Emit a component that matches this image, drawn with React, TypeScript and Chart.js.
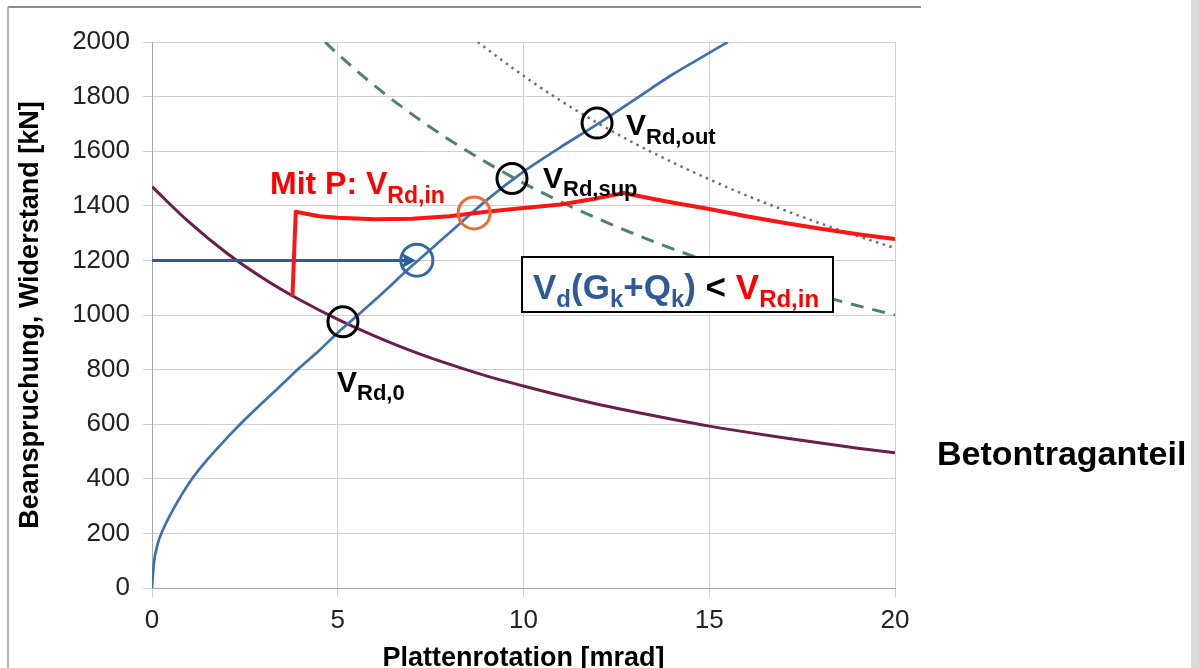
import React, { useEffect, useRef } from 'react';
import { Chart, registerables } from 'chart.js';

Chart.register(...registerables);

const W = 1199;
const H = 668;
const FONT = "'Liberation Sans', Arial, Helvetica, sans-serif";

// axis ticks
const xTickValues = [0, 5, 10, 15, 20];
const yTickValues = [0, 200, 400, 600, 800, 1000, 1200, 1400, 1600, 1800, 2000];

// load–rotation curve (blue)
const loadX = [0, 0.05, 0.15, 0.3, 0.6, 1.0, 1.5, 2.0, 2.5, 3.0, 3.5, 4.0, 4.5, 5.0, 5.5, 6.0, 7.0, 8.0, 9.0, 10.0, 11.0, 12.0, 13.0, 14.0, 15.0, 15.5];
const loadY = [0, 90, 160, 215, 295, 385, 472, 547, 617, 682, 746, 810, 870, 935, 995, 1055, 1180, 1300, 1420, 1525, 1615, 1700, 1790, 1880, 1960, 2000];

// concrete contribution (purple)
const concreteX = [0, 1, 2, 3, 4, 5, 6, 7, 8, 9, 10, 11, 12, 13, 14, 15, 16, 17, 18, 19, 20];
const concreteY = [1470, 1340, 1228, 1134, 1054, 984, 923, 868, 820, 777, 740, 705, 673, 645, 618, 593, 571, 550, 531, 512, 495];

// resistance with prestressing V_Rd,in (red)
const rdInX = [3.78, 3.87, 4.5, 5, 6, 7, 8, 9, 10, 11, 12, 12.7, 13.5, 14, 15, 16, 17, 18, 19, 20];
const rdInY = [1068, 1378, 1362, 1356, 1351, 1353, 1362, 1378, 1392, 1405, 1428, 1447, 1425, 1412, 1388, 1362, 1338, 1316, 1296, 1278];

// V_Rd,sup (dashed)
const rdSupX = [4.66, 5, 6, 7, 8, 9, 10, 11, 12, 13, 14, 15, 16, 17, 18, 19, 20];
const rdSupY = [2000, 1956, 1839, 1735, 1642, 1559, 1483, 1415, 1353, 1296, 1243, 1195, 1150, 1108, 1070, 1034, 1000];

// V_Rd,out (dotted)
const rdOutX = [8.77, 9, 10, 11, 12, 13, 14, 15, 16, 17, 18, 19, 20];
const rdOutY = [2000, 1976, 1876, 1785, 1703, 1628, 1560, 1497, 1438, 1385, 1335, 1289, 1245];

// design load arrow V_d
const arrowX = [0, 7.0];
const arrowY = [1200, 1200];

// marked intersections
const circleX = [5.14, 9.69, 11.98, 8.67, 7.13];
const circleY = [975, 1500, 1703, 1374, 1201];
const circleColors = ['#000000', '#000000', '#000000', '#f06a34', '#2f6aa8'];

const pts = (xs: number[], ys: number[]) => xs.map((x, i) => ({ x, y: ys[i] }));

type Run = { t: string; size: number; color: string; dy?: number };

function drawRuns(ctx: CanvasRenderingContext2D, x: number, y: number, runs: Run[]) {
  let cx = x;
  ctx.textAlign = 'left';
  ctx.textBaseline = 'alphabetic';
  for (const r of runs) {
    ctx.font = `bold ${r.size}px ${FONT}`;
    ctx.fillStyle = r.color;
    ctx.fillText(r.t, cx, y + (r.dy || 0));
    cx += ctx.measureText(r.t).width;
  }
}

const decorPlugin = {
  id: 'decor',
  beforeDraw(chart: any) {
    const ctx: CanvasRenderingContext2D = chart.ctx;
    ctx.save();
    ctx.fillStyle = '#ffffff';
    ctx.fillRect(0, 0, W, H);
    ctx.strokeStyle = '#8c8c8c';
    ctx.lineWidth = 2;
    ctx.beginPath();
    ctx.moveTo(8, 7);
    ctx.lineTo(921, 7);
    ctx.stroke();
    ctx.strokeStyle = '#b4b4b4';
    ctx.beginPath();
    ctx.moveTo(8, 7);
    ctx.lineTo(8, H);
    ctx.stroke();
    ctx.fillStyle = '#d9d9d9';
    ctx.fillRect(1191, 0, 8, H);
    ctx.restore();
  },
  afterDatasetsDraw(chart: any) {
    const ctx: CanvasRenderingContext2D = chart.ctx;
    const xs = chart.scales.x;
    const ys = chart.scales.y;
    ctx.save();

    // arrow head
    const ax = xs.getPixelForValue(arrowX[arrowX.length - 1]);
    const ay = ys.getPixelForValue(arrowY[arrowY.length - 1]);
    ctx.fillStyle = '#2c5f97';
    ctx.beginPath();
    ctx.moveTo(ax + 4, ay);
    ctx.lineTo(ax - 11, ay - 8);
    ctx.lineTo(ax - 7, ay);
    ctx.lineTo(ax - 11, ay + 8);
    ctx.closePath();
    ctx.fill();

    // circles
    for (let i = 0; i < circleX.length; i++) {
      const px = xs.getPixelForValue(circleX[i]);
      const py = ys.getPixelForValue(circleY[i]);
      ctx.strokeStyle = circleColors[i];
      ctx.lineWidth = 3;
      ctx.beginPath();
      ctx.arc(px, py, i >= 3 ? 16 : 15, 0, Math.PI * 2);
      ctx.stroke();
    }

    // labels
    drawRuns(ctx, 337, 392, [
      { t: 'V', size: 30, color: '#000' },
      { t: 'Rd,0', size: 22, color: '#000', dy: 8 },
    ]);
    drawRuns(ctx, 543, 188, [
      { t: 'V', size: 30, color: '#000' },
      { t: 'Rd,sup', size: 22, color: '#000', dy: 8 },
    ]);
    drawRuns(ctx, 626, 135, [
      { t: 'V', size: 30, color: '#000' },
      { t: 'Rd,out', size: 22, color: '#000', dy: 9 },
    ]);
    drawRuns(ctx, 270, 194, [
      { t: 'Mit P: V', size: 32, color: '#ff0000' },
      { t: 'Rd,in', size: 23, color: '#ff0000', dy: 9 },
    ]);

    // box
    ctx.fillStyle = '#ffffff';
    ctx.fillRect(522, 257, 311, 55);
    ctx.strokeStyle = '#000000';
    ctx.lineWidth = 2;
    ctx.strokeRect(522, 257, 311, 55);
    const blue = '#2e5a97';
    drawRuns(ctx, 533, 299, [
      { t: 'V', size: 35, color: blue },
      { t: 'd', size: 24, color: blue, dy: 8 },
      { t: '(G', size: 35, color: blue },
      { t: 'k', size: 24, color: blue, dy: 8 },
      { t: '+Q', size: 35, color: blue },
      { t: 'k', size: 24, color: blue, dy: 8 },
      { t: ')', size: 35, color: blue },
      { t: ' < ', size: 35, color: '#000' },
      { t: 'V', size: 35, color: '#ff0000' },
      { t: 'Rd,in', size: 24, color: '#ff0000', dy: 8 },
    ]);

    // side label
    drawRuns(ctx, 937, 465, [{ t: 'Betontraganteil', size: 34, color: '#000' }]);

    // axis titles
    ctx.font = `bold 27px ${FONT}`;
    ctx.fillStyle = '#000';
    ctx.textAlign = 'center';
    ctx.textBaseline = 'alphabetic';
    const ca = chart.chartArea;
    ctx.fillText('Plattenrotation [mrad]', (ca.left + ca.right) / 2, 666);
    ctx.save();
    ctx.translate(28, (ca.top + ca.bottom) / 2);
    ctx.rotate(-Math.PI / 2);
    ctx.fillText('Beanspruchung, Widerstand [kN]', 0, 9.5);
    ctx.restore();

    ctx.restore();
  },
};

export default function App() {
  const ref = useRef<HTMLCanvasElement | null>(null);

  useEffect(() => {
    if (!ref.current) return;
    const common = { showLine: true, pointRadius: 0, pointHoverRadius: 0, fill: false };
    const chart = new Chart(ref.current, {
      type: 'scatter',
      data: {
        datasets: [
          { ...common, data: pts(rdInX, rdInY), borderColor: '#ff1414', borderWidth: 4, tension: 0, borderJoinStyle: 'round' },
          { ...common, data: pts(loadX, loadY), borderColor: '#3f70b0', borderWidth: 2.7, cubicInterpolationMode: 'monotone' },
          { ...common, data: pts(arrowX, arrowY), borderColor: '#2c5f97', borderWidth: 3, tension: 0 },
          { ...common, data: pts(concreteX, concreteY), borderColor: '#6b1d4d', borderWidth: 3, cubicInterpolationMode: 'monotone' },
          { ...common, data: pts(rdSupX, rdSupY), borderColor: '#4f8075', borderWidth: 3, borderDash: [13, 9], cubicInterpolationMode: 'monotone' },
          { ...common, data: pts(rdOutX, rdOutY), borderColor: '#707070', borderWidth: 2.5, borderDash: [2.5, 4.5], cubicInterpolationMode: 'monotone' },
        ] as any,
      },
      options: {
        responsive: false,
        animation: false,
        events: [],
        layout: { padding: { left: 0, top: 42, right: 304, bottom: 0 } },
        plugins: { legend: { display: false }, tooltip: { enabled: false }, title: { display: false } },
        scales: {
          x: {
            type: 'linear',
            min: 0,
            max: 20,
            afterBuildTicks: (s: any) => {
              s.ticks = xTickValues.map((v) => ({ value: v }));
            },
            afterFit: (s: any) => {
              s.height = 80;
            },
            ticks: {
              font: { family: FONT, size: 26 },
              color: '#222222',
              padding: 8,
              maxRotation: 0,
              autoSkip: false,
              callback: (v: any) => String(v),
            },
            grid: { color: '#d0d0d0', lineWidth: 1, tickLength: 9 },
            border: { color: '#a6a6a6', width: 1 },
          },
          y: {
            type: 'linear',
            min: 0,
            max: 2000,
            afterBuildTicks: (s: any) => {
              s.ticks = yTickValues.map((v) => ({ value: v }));
            },
            afterFit: (s: any) => {
              s.width = 152;
            },
            ticks: {
              font: { family: FONT, size: 26 },
              color: '#222222',
              padding: 13,
              autoSkip: false,
              callback: (v: any) => String(v),
            },
            grid: { color: '#d0d0d0', lineWidth: 1, tickLength: 9 },
            border: { color: '#a6a6a6', width: 1 },
          },
        },
      } as any,
      plugins: [decorPlugin],
    });
    return () => chart.destroy();
  }, []);

  return (
    <div style={{ position: 'absolute', left: 0, top: 0, width: W, height: H, background: '#fff' }}>
      <canvas ref={ref} width={W} height={H} style={{ display: 'block', width: W, height: H }} />
    </div>
  );
}
